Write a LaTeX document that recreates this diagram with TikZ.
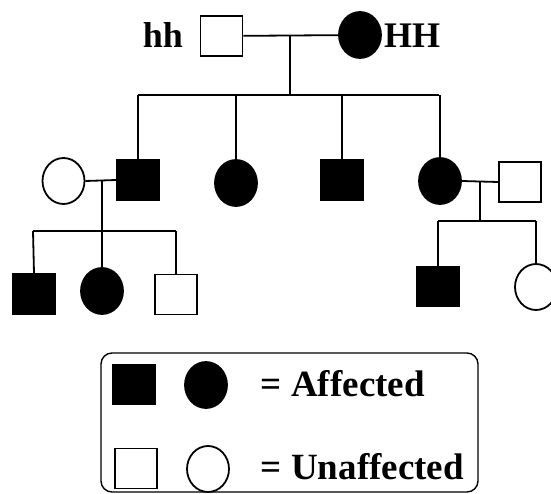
\documentclass[tikz,border=0pt]{standalone}
\usepackage{fontspec}
\setmainfont{Liberation Serif}
\usetikzlibrary{shapes.geometric}
\begin{document}
\begin{tikzpicture}[x=1pt,y=-1pt,
  line width=1.8pt,
  male/.style={rectangle,draw,minimum width=42pt,minimum height=40pt,inner sep=0pt},
  female/.style={ellipse,draw,minimum width=42pt,minimum height=46pt,inner sep=0pt},
  aff/.style={fill=black},
  lbl/.style={font=\fontsize{36}{40}\selectfont\bfseries,inner sep=0pt},
  leg/.style={font=\fontsize{37}{42}\selectfont\bfseries,inner sep=0pt,anchor=base west}]
\useasboundingbox (0,0) rectangle (551,494);
\clip (0,0) rectangle (551,494);
% generation I
\node[male] (p1) at (221.5,36) {};
\node[female,aff] (p2) at (360,35) {};
\node[lbl] (l1) at (163,35) {hh};
\node[lbl] (l2) at (412,36) {HH};
\coordinate (m1) at (290,36);
\coordinate (s1) at (290,95);
\coordinate (s1l) at (138,95);
\coordinate (s1r) at (439,95);
\draw (p1) -- (p2);
\draw (m1) -- (s1);
\draw (s1l) -- (s1r);
% generation II
\node[female] (w1) at (63.5,181) {};
\node[male,aff] (c1) at (138,180) {};
\node[female,aff] (c2) at (236,183) {};
\node[male,aff] (c3) at (342,180) {};
\node[female,aff] (c4) at (440,181) {};
\node[male] (h4) at (520,182) {};
\coordinate (d1) at (138,95);
\coordinate (d2) at (236,95);
\coordinate (d3) at (342,95);
\coordinate (d4) at (440,95);
\draw (d1) -- (c1.north);
\draw (d2) -- (c2.north);
\draw (d3) -- (c3.north);
\draw (d4) -- (c4.north);
\draw (w1.east) -- (c1.west);
\draw (c4.east) -- (h4.west);
\coordinate (m2) at (102,181);
\coordinate (s2) at (102,231);
\coordinate (s2l) at (33,231);
\coordinate (s2r) at (176,231);
\draw (m2) -- (s2);
\draw (s2l) -- (s2r);
\coordinate (m3) at (480,181);
\coordinate (s3) at (480,221);
\coordinate (s3l) at (438,221);
\coordinate (s3r) at (536,221);
\draw (m3) -- (s3);
\draw (s3l) -- (s3r);
% generation III
\node[male,aff] (g1) at (34,294) {};
\node[female,aff] (g2) at (102,291) {};
\node[male] (g3) at (176,294.5) {};
\node[male,aff] (g4) at (438,286.5) {};
\node[female] (g5) at (536,287) {};
\draw (s2l) -- (g1.north);
\draw (s2) -- (g2.north);
\draw (s2r) -- (g3.north);
\draw (s3l) -- (g4.north);
\draw (s3r) -- (g5.north);
% legend
\node[draw,line width=1.4pt,rounded corners=11pt,minimum width=377pt,minimum height=139pt,inner sep=0pt] (box) at (289.5,422.5) {};
\node[male,aff] (k1) at (134,384.5) {};
\node[female,aff] (k2) at (206,385) {};
\node[male] (k3) at (136,468.5) {};
\node[female] (k4) at (208,469) {};
\node[leg] (t1) at (260,396) {= Affected};
\node[leg] (t2) at (260,479) {= Unaffected};
\end{tikzpicture}
\end{document}
